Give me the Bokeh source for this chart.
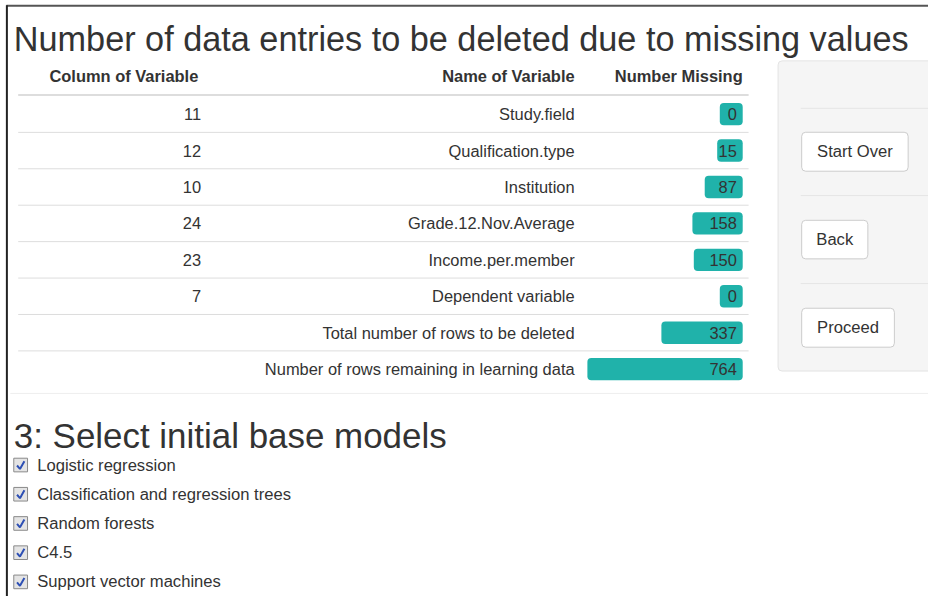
from bokeh.plotting import figure
from bokeh.models import Range1d, ColumnDataSource
from bokeh.core.properties import value
from bokeh.embed import file_html
from bokeh.resources import INLINE

# ---------------- data ----------------
title_text = "Number of data entries to be deleted due to missing values"
header_labels = ["Column of Variable", "Name of Variable", "Number Missing"]
col_numbers = ["11", "12", "10", "24", "23", "7"]
var_names = ["Study.field", "Qualification.type", "Institution",
             "Grade.12.Nov.Average", "Income.per.member", "Dependent variable"]
var_missing = [0, 15, 87, 158, 150, 0]
summary_labels = ["Total number of rows to be deleted",
                  "Number of rows remaining in learning data"]
summary_values = [337, 764]
buttons = ["Start Over", "Back", "Proceed"]
section_title = "3: Select initial base models"
models = ["Logistic regression", "Classification and regression trees",
          "Random forests", "C4.5", "Support vector machines"]

# ---------------- layout / style constants ----------------
FONT = "Liberation Sans"
TXT = "#333333"
LINE = "#dddddd"
BAR = "#20b2aa"
W, H = 928, 596
REF_W, REF_H = 944, 612
FS = (W / REF_W + H / REF_H) / 2          # font scale to fit the page
ROW0, ROW_H = 116.7, 37.4
BAR_ZERO_PX, BAR_PX_PER_UNIT, BAR_RIGHT_PX = 731.7, 0.1763, 755.0

def fs(px):
    return f"{px * FS:.2f}px"

p = figure(width=W, height=H, x_range=Range1d(0, REF_W), y_range=Range1d(REF_H, 0),
           output_backend="svg", toolbar_location=None, min_border=0,
           x_axis_location=None, y_axis_location=None, outline_line_color=None,
           background_fill_color="white", border_fill_color="white")
p.grid.visible = False

# bar scale: value -> position, via an extra range
bar_start = (BAR_ZERO_PX - 0) / BAR_PX_PER_UNIT
bar_end = (BAR_ZERO_PX - REF_W) / BAR_PX_PER_UNIT
bar_right_val = (BAR_ZERO_PX - BAR_RIGHT_PX) / BAR_PX_PER_UNIT
p.extra_x_ranges = {"bars": Range1d(bar_start, bar_end)}

def txt(x, y, t, size, align="left", baseline="middle", bold=False, color=TXT):
    p.text(x=x, y=y, text=t, text_font=value(FONT), text_font_size=fs(size),
           text_color=color, text_align=align, text_baseline=baseline,
           text_font_style="bold" if bold else "normal")

# page frame lines
p.segment(x0=[6], y0=[5.5], x1=[944], y1=[5.5], line_color="#555555", line_width=2)
p.segment(x0=[6.5], y0=[5], x1=[6.5], y1=[612], line_color="#222222", line_width=2)

# title
txt([13.5], [39.5], [title_text], 35.0, baseline="alphabetic")

# right well panel
p.quad(left=[791], right=[960], top=[62], bottom=[380.5], fill_color="#f5f5f5",
       line_color="#e3e3e3", border_radius=4)
p.segment(x0=[814] * 3, x1=[944] * 3, y0=[110.7, 200.3, 290.7], y1=[110.7, 200.3, 290.7],
          line_color="#e5e5e5", line_width=1)
btn_left = [815, 815, 815]
btn_right = [923.3, 882.3, 909.3]
btn_top = [135.3, 225.7, 316]
btn_bottom = [175.3, 265.3, 356]
p.quad(left=btn_left, right=btn_right, top=btn_top, bottom=btn_bottom,
       fill_color="white", line_color="#cccccc", border_radius=4)
txt([(a + b) / 2 for a, b in zip(btn_left, btn_right)],
    [(a + b) / 2 for a, b in zip(btn_top, btn_bottom)], buttons, 17, align="center")

# table header
HEAD_Y = 78
txt([125.5], [HEAD_Y], [header_labels[0]], 16.8, align="center", bold=True)
txt([584], [HEAD_Y], [header_labels[1]], 16.8, align="right", bold=True)
txt([755], [HEAD_Y], [header_labels[2]], 16.8, align="right", bold=True)
p.segment(x0=[18], x1=[761], y0=[97], y1=[97], line_color=LINE, line_width=2)

# table rows
n_rows = len(var_names) + len(summary_labels)
row_y = [ROW0 + i * ROW_H for i in range(n_rows)]
sep_y = [y + ROW_H / 2 for y in row_y[:-1]]
p.segment(x0=[18] * len(sep_y), x1=[761] * len(sep_y), y0=sep_y, y1=sep_y,
          line_color=LINE, line_width=1)

all_names = var_names + summary_labels
all_values = var_missing + summary_values
txt([204] * len(col_numbers), row_y[:len(col_numbers)], col_numbers, 16.8, align="right")
txt([584] * n_rows, row_y, all_names, 16.8, align="right")

src = ColumnDataSource(dict(y=row_y, n=all_values, lab=[str(v) for v in all_values]))
p.hbar(y="y", left="n", right=bar_right_val, height=23, source=src, x_range_name="bars",
       fill_color=BAR, line_color=None, border_radius=4)
p.text(x=749, y="y", text="lab", source=src, text_font=value(FONT), text_font_size=fs(16.8),
       text_color=TXT, text_align="right", text_baseline="middle")

# section separator
p.segment(x0=[10], x1=[944], y0=[403.5], y1=[403.5], line_color="#eeeeee", line_width=1)

# section 3
txt([13.5], [446.7], [section_title], 35.7, baseline="alphabetic")
chk_y = [477 + 30 * i for i in range(len(models))]
p.quad(left=[13.5] * len(models), right=[27.5] * len(models),
       top=[y - 7 for y in chk_y], bottom=[y + 7 for y in chk_y],
       fill_color="#e4e4e4", line_color="#8a8a8a", line_width=1)
p.multi_line(xs=[[16.8, 19.8, 24.3] for _ in chk_y],
             ys=[[y + 0.5, y + 4, y - 4] for y in chk_y],
             line_color="#2d4fb4", line_width=2)
txt([37.3] * len(models), chk_y, models, 17)

open("out.html", "w").write(file_html(p, INLINE))
